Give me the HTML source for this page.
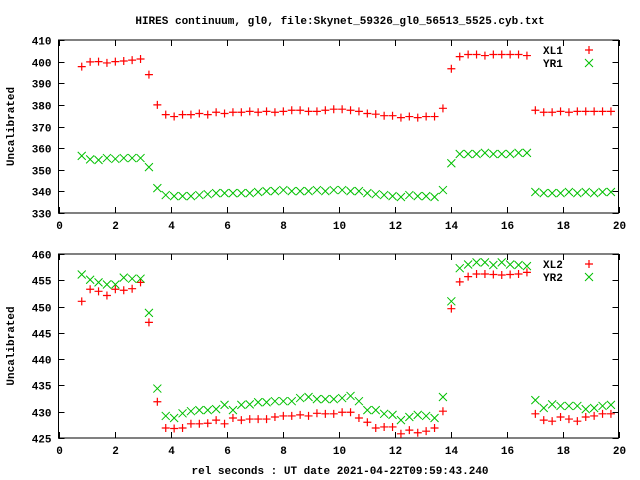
<!DOCTYPE html>
<html><head><meta charset="utf-8"><style>
body{margin:0;background:#fff}
svg{display:block}
text{font-family:"Liberation Mono",monospace;font-weight:bold;font-size:11px;fill:#000}
</style></head><body>
<svg id="c" width="640" height="480">
<text x="340" y="24" text-anchor="middle">HIRES continuum, gl0, file:Skynet_59326_gl0_56513_5525.cyb.txt</text>
<text x="340" y="474" text-anchor="middle">rel seconds : UT date 2021-04-22T09:59:43.240</text>
</svg>
<script>
const times=[0.83,1.13,1.43,1.73,2.03,2.33,2.63,2.93,3.23,3.53,3.83,4.13,4.43,4.73,5.03,5.33,5.63,5.93,6.23,6.53,6.83,7.13,7.43,7.73,8.03,8.33,8.63,8.93,9.23,9.53,9.83,10.13,10.43,10.73,11.03,11.33,11.63,11.93,12.23,12.53,12.83,13.13,13.43,13.73,14.03,14.33,14.63,14.93,15.23,15.53,15.83,16.13,16.43,16.73,17.03,17.33,17.63,17.93,18.23,18.53,18.83,19.13,19.43,19.73];
const xl1=[397.7,399.9,400,399.4,400,400.3,400.7,401.2,394,380,375.5,374.6,375.5,375.5,376,375.5,376.6,376,376.6,376.6,377,376.6,377,376.6,377,377.5,377.5,377,377,377.5,378,378,377.5,377,376,375.7,375,375,374.1,374.6,374.1,374.6,374.6,378.4,396.7,402.3,403.3,403.3,402.8,403.3,403.3,403.3,403.3,402.8,377.5,376.6,376.6,377,376.6,377,377,377,377,377];
const yr1=[356.4,354.8,354.5,355.4,355,355.4,355.4,355.4,351.2,341.5,338.3,337.8,337.8,337.8,338.3,338.7,339.2,339.2,339.2,339.2,339.2,339.7,340.1,340.1,340.6,340.1,340.1,340.1,340.6,340.1,340.6,340.6,340.1,340.1,339.2,338.7,338.3,337.8,337.4,338.3,337.8,337.8,337.4,340.6,353,357.3,357.3,357.3,357.8,357.3,357.3,357.3,357.8,357.8,339.7,339.2,339.2,339.2,339.7,339.2,339.7,339.2,339.7,339.7];
const xl2=[451,453.3,452.9,452.1,453.3,453.1,453.4,454.6,447,431.9,426.9,426.8,426.9,427.7,427.7,427.8,428.4,427.7,428.8,428.4,428.6,428.6,428.6,429,429.2,429.2,429.4,429.2,429.7,429.6,429.6,429.9,429.9,428.8,428,426.9,427.1,427.1,425.8,426.5,426,426.3,426.9,430.1,449.6,454.7,455.7,456.2,456.2,456.1,456,456.1,456.2,456.5,429.6,428.4,428.2,429,428.6,428.2,429,429.2,429.6,429.6];
const yr2=[456.1,455.1,454.6,454.2,454.2,455.5,455.3,455.3,448.8,434.4,429.2,428.8,429.7,430.1,430.3,430.3,430.5,431.3,430.3,431.3,431.4,431.8,431.8,432,432,432,432.6,432.8,432.4,432.4,432.4,432.6,433,432,430.3,430.3,429.6,429.4,428.4,429,429.4,429.2,428.8,432.8,451,457.3,458,458.4,458.4,457.9,458.4,458,457.9,457.7,432.2,430.7,431.4,431.1,431.1,431.1,430.5,430.7,431.1,431.3];
const xTicks=[0,2,4,6,8,10,12,14,16,18,20];
const y1Ticks=[330,340,350,360,370,380,390,400,410];
const y2Ticks=[425,430,435,440,445,450,455,460];
const svg=document.getElementById('c');const NS='http://www.w3.org/2000/svg';
function mk(t,a,p){const e=document.createElementNS(NS,t);for(const k in a)e.setAttribute(k,a[k]);(p||svg).appendChild(e);return e;}
function panel(top,bot,ymin,ymax,yt,s1,s2,n1,n2,id){
 const L=58.5,R=618.5;
 const sx=v=>L+(v-0)/(20-0)*(R-L);
 const sy=v=>bot-(v-ymin)/(ymax-ymin)*(bot-top);
 const g=mk('g',{});
 
 
 const f=mk('rect',{x:L,y:top,width:R-L,height:bot-top,fill:'none',stroke:'#000','stroke-width':1},g);
 
 
 xTicks.forEach(v=>{const x=Math.round(sx(v))+0.5;
  mk('line',{x1:x,y1:bot,x2:x,y2:bot-6,stroke:'#000'},g);mk('line',{x1:x,y1:top,x2:x,y2:top+6,stroke:'#000'},g);
  const t=mk('text',{x:x,y:bot+16,'text-anchor':'middle'},g);t.textContent=v;
  
  });
 yt.forEach(v=>{const y=Math.round(sy(v))+0.5;
  mk('line',{x1:L,y1:y,x2:L+6,y2:y,stroke:'#000'},g);mk('line',{x1:R,y1:y,x2:R-6,y2:y,stroke:'#000'},g);
  const t=mk('text',{x:L-7,y:y+4,'text-anchor':'end'},g);t.textContent=v;
  
  });
 const yl=mk('text',{transform:`translate(14,${(top+bot)/2}) rotate(-90)`,'text-anchor':'middle'},g);yl.textContent='Uncalibrated';
 
 
 const plus=(x,y,c,p)=>{mk('path',{d:`M${x-4},${y}h8M${x},${y-4}v8`,stroke:c,'stroke-width':1.2,fill:'none'},p);};
 const cross=(x,y,c,p)=>{mk('path',{d:`M${x-4},${y-4}l8,8M${x-4},${y+4}l8,-8`,stroke:c,'stroke-width':1,fill:'none'},p);};
 const g1=mk('g',{},g);
 const g2=mk('g',{},g);
 times.forEach((t,i)=>{plus(sx(t),sy(s1[i]),'#ff0000',g1);cross(sx(t),sy(s2[i]),'#00c000',g2);});
 const l1=mk('text',{x:543,y:top+14},g);l1.textContent=n1;
 const l2=mk('text',{x:543,y:top+27},g);l2.textContent=n2;
 plus(589,top+10,'#ff0000',g);cross(589,top+23,'#00c000',g);
}
panel(40,213,330,410,y1Ticks,xl1,yr1,'XL1','YR1','top');
panel(254,438,425,460,y2Ticks,xl2,yr2,'XL2','YR2','bottom');
</script>
</body></html>
